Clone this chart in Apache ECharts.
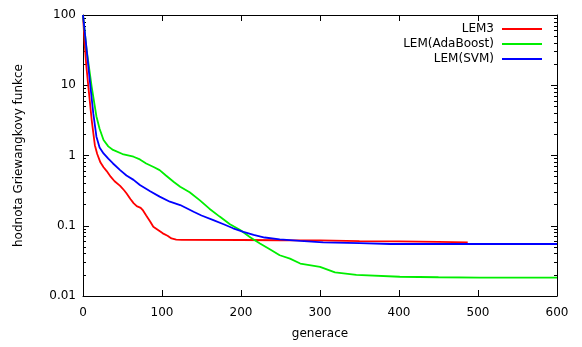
<!DOCTYPE html>
<html>
<head>
<meta charset="utf-8">
<script src="https://cdn.jsdelivr.net/npm/echarts@6/dist/echarts.min.js"></script>
<style>
  html, body { margin: 0; padding: 0; background: #fff; }
  #chart { width: 582px; height: 347px; }
</style>
</head>
<body>
<div id="chart"></div>
<script>
// values (generation, best value)
const lem3Gen = [0, 2, 4, 7, 11, 15, 18, 22, 26, 30, 35, 40, 47, 52, 55, 60, 64, 68, 73, 76, 80, 85, 89, 95, 101, 107, 112, 118, 125, 200, 250, 300, 350, 400, 450, 487]
const lem3Val = [100, 40, 20, 9, 3.2, 1.4, 1.05, 0.8, 0.68, 0.6, 0.5, 0.43, 0.37, 0.32, 0.29, 0.24, 0.21, 0.19, 0.18, 0.165, 0.14, 0.115, 0.097, 0.087, 0.078, 0.072, 0.066, 0.0635, 0.063, 0.0627, 0.0622, 0.062, 0.0605, 0.06, 0.059, 0.058]

const adaGen = [0, 4.6, 11, 17, 21, 26, 32, 38, 50, 64, 72, 80, 90, 97, 105, 115, 123, 135, 148, 160, 173, 186, 199, 212, 224, 237, 249, 262, 275, 300, 319, 346, 401, 450, 502, 600]
const adaVal = [100, 32, 9.5, 3.6, 2.4, 1.66, 1.35, 1.2, 1.05, 0.96, 0.88, 0.77, 0.68, 0.62, 0.52, 0.42, 0.36, 0.3, 0.23, 0.175, 0.135, 0.105, 0.087, 0.068, 0.056, 0.046, 0.038, 0.034, 0.029, 0.026, 0.0217, 0.02, 0.0188, 0.0185, 0.0183, 0.0183]

const svmGen = [0, 4.6, 9, 13, 17, 21, 26, 32, 38, 47, 55, 64, 72, 85, 97, 110, 123, 130, 140, 150, 165, 178, 190, 203, 216, 230, 249, 275, 304, 350, 389, 500, 600]
const svmVal = [100, 32, 10.6, 4.0, 1.85, 1.3, 1.07, 0.9, 0.77, 0.62, 0.52, 0.45, 0.38, 0.31, 0.26, 0.22, 0.197, 0.18, 0.158, 0.14, 0.12, 0.105, 0.092, 0.082, 0.074, 0.068, 0.064, 0.061, 0.058, 0.0565, 0.055, 0.055, 0.055]

const seriesNames = ['LEM3', 'LEM(AdaBoost)', 'LEM(SVM)']
const seriesColors = ['#ff0000', '#00ee00', '#0000ff']

// y axis ticks (gnuplot style: majors per decade, minors 2..9)
const yMajorTicks = [0.01, 0.1, 1, 10, 100]
const yMinorTicks = [
  0.02, 0.03, 0.04, 0.05, 0.06, 0.07, 0.08, 0.09,
  0.2, 0.3, 0.4, 0.5, 0.6, 0.7, 0.8, 0.9,
  2, 3, 4, 5, 6, 7, 8, 9,
  20, 30, 40, 50, 60, 70, 80, 90
]

const font = 'DejaVu Sans'
const chart = echarts.init(document.getElementById('chart'))

function pairs(gen, val) {
  return gen.map((g, i) => [g, val[i]])
}

const tickStyle = { color: '#000', width: 1 }

// helper axis that only carries the minor ticks, in log10 space
function minorTickAxis(pos) {
  return {
    type: 'value',
    position: pos,
    min: -2,
    max: 2,
    axisLine: { show: false, onZero: false },
    axisLabel: { show: false },
    splitLine: { show: false },
    axisTick: {
      show: true,
      inside: true,
      length: 3,
      lineStyle: tickStyle,
      customValues: yMinorTicks.map(v => Math.log10(v))
    }
  }
}

function xAxisAt(pos, withLabels) {
  return {
    type: 'value',
    position: pos,
    min: 0,
    max: 600,
    interval: 100,
    name: withLabels ? 'generace' : '',
    nameLocation: 'middle',
    nameGap: 32,
    nameTextStyle: { fontFamily: font, fontSize: 12, color: '#000' },
    axisLine: { show: true, onZero: false, lineStyle: { color: '#000', width: 1 } },
    axisTick: { show: true, inside: true, length: 6, lineStyle: tickStyle },
    axisLabel: { show: withLabels, fontFamily: font, fontSize: 12, color: '#000', margin: 11 },
    splitLine: { show: false }
  }
}

function yAxisAt(pos, withLabels) {
  return {
    type: 'log',
    logBase: 10,
    position: pos,
    min: 0.01,
    max: 100,
    name: withLabels ? 'hodnota Griewangkovy funkce' : '',
    nameLocation: 'middle',
    nameGap: 58,
    nameTextStyle: { fontFamily: font, fontSize: 12, color: '#000' },
    axisLine: { show: true, onZero: false, lineStyle: { color: '#000', width: 1 } },
    axisTick: { show: true, inside: true, length: 6, lineStyle: tickStyle },
    axisLabel: {
      show: withLabels, fontFamily: font, fontSize: 12, color: '#000', margin: 7,
      formatter: v => String(yMajorTicks.find(t => Math.abs(t - v) / t < 1e-6) ?? v)
    },
    splitLine: { show: false }
  }
}

chart.setOption({
  animation: false,
  backgroundColor: '#fff',
  textStyle: { fontFamily: font },
  grid: { left: 83, right: 25, top: 15, bottom: 51 },
  legend: {
    orient: 'vertical',
    right: 35,
    top: 17,
    align: 'right',
    icon: 'rect',
    itemWidth: 40,
    itemHeight: 2,
    itemGap: 1,
    data: seriesNames,
    textStyle: { fontFamily: font, fontSize: 12, color: '#000', lineHeight: 14, padding: [0, 3, 0, 0] }
  },
  xAxis: [xAxisAt('bottom', true), xAxisAt('top', false)],
  yAxis: [yAxisAt('left', true), yAxisAt('right', false), minorTickAxis('left'), minorTickAxis('right')],
  series: [
    { name: seriesNames[0], data: pairs(lem3Gen, lem3Val) },
    { name: seriesNames[1], data: pairs(adaGen, adaVal) },
    { name: seriesNames[2], data: pairs(svmGen, svmVal) }
  ].map((s, i) => ({
    ...s,
    type: 'line',
    xAxisIndex: 0,
    yAxisIndex: 0,
    showSymbol: false,
    symbol: 'none',
    color: seriesColors[i],
    lineStyle: { color: seriesColors[i], width: 1.8 },
    z: 2 + i
  }))
})
</script>
</body>
</html>
